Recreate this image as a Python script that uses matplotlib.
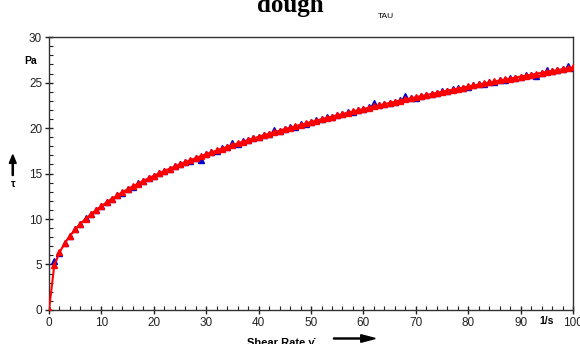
import matplotlib
matplotlib.use("Agg")
import matplotlib.pyplot as plt
from matplotlib.ticker import MultipleLocator

plt.rcParams['font.family'] = ['Liberation Sans', 'DejaVu Sans']

# shear rate [1/s]
shear_rate = list(range(0, 101))

# fitted curve (red), shear stress tau [Pa]
tau_fit = [0.0, 4.90, 6.32, 7.34, 8.16, 8.86, 9.47, 10.03, 10.53, 11.00,
           11.43, 11.84, 12.23, 12.59, 12.94, 13.27, 13.59, 13.90, 14.20, 14.48,
           14.76, 15.02, 15.28, 15.54, 15.78, 16.02, 16.25, 16.48, 16.70, 16.92,
           17.13, 17.34, 17.54, 17.74, 17.94, 18.13, 18.32, 18.51, 18.69, 18.87,
           19.04, 19.22, 19.39, 19.56, 19.72, 19.89, 20.05, 20.21, 20.37, 20.52,
           20.67, 20.83, 20.97, 21.12, 21.27, 21.41, 21.55, 21.70, 21.83, 21.97,
           22.11, 22.24, 22.38, 22.51, 22.64, 22.77, 22.90, 23.02, 23.15, 23.27,
           23.40, 23.52, 23.64, 23.76, 23.88, 24.00, 24.12, 24.23, 24.35, 24.46,
           24.58, 24.69, 24.80, 24.91, 25.02, 25.13, 25.24, 25.35, 25.45, 25.56,
           25.67, 25.77, 25.87, 25.98, 26.08, 26.18, 26.28, 26.38, 26.48, 26.58,
           26.68]

# measured points (blue)
tau_meas = [0.0, 5.40, 6.30, 7.40, 8.10, 8.90, 9.40, 10.10, 10.50, 10.95,
            11.40, 11.85, 12.20, 12.65, 12.90, 13.30, 13.55, 13.95, 14.15, 14.50,
            14.70, 15.05, 15.25, 15.50, 15.80, 16.00, 16.30, 16.40, 16.75, 16.50,
            17.15, 17.40, 17.50, 17.80, 17.90, 18.35, 18.30, 18.55, 18.65, 18.90,
            19.00, 19.25, 19.35, 19.80, 19.70, 19.90, 20.10, 20.15, 20.45, 20.50,
            20.65, 20.90, 20.95, 21.20, 21.25, 21.45, 21.50, 21.80, 21.80, 22.00,
            22.10, 22.30, 22.75, 22.50, 22.70, 22.80, 22.85, 23.05, 23.50, 23.30,
            23.35, 23.55, 23.60, 23.80, 23.90, 24.10, 24.05, 24.30, 24.40, 24.45,
            24.55, 24.75, 24.80, 24.85, 25.10, 25.10, 25.30, 25.30, 25.50, 25.50,
            25.65, 25.80, 25.85, 25.70, 26.10, 26.40, 26.25, 26.40, 26.55, 26.85,
            26.60]

fig = plt.figure(figsize=(5.8, 3.44), dpi=100)
ax = fig.add_axes([0.0845, 0.099, 0.9035, 0.793])

ax.plot(shear_rate, tau_meas, linestyle='none', marker='^', markersize=4.5,
        color='#0000c8', zorder=2)
ax.plot(shear_rate, tau_fit, color='#ff0000', linewidth=1.5, marker='^',
        markersize=4.5, zorder=3)

ax.set_xlim(0, 100)
ax.set_ylim(0, 30)
ax.xaxis.set_major_locator(MultipleLocator(10))
ax.xaxis.set_minor_locator(MultipleLocator(2))
ax.yaxis.set_major_locator(MultipleLocator(5))
ax.yaxis.set_minor_locator(MultipleLocator(1))
ax.tick_params(which='major', direction='inout', length=6, width=1,
               labelsize=8.5, pad=2, colors='#222222')
ax.tick_params(which='minor', direction='in', length=3, width=0.8, color='#222222')
ax.tick_params(top=False, right=False)
for s in ax.spines.values():
    s.set_color('#333333')
    s.set_linewidth(1.0)

# axis annotations
fig.text(0.052, 0.822, 'Pa', fontsize=7.5, fontweight='bold', ha='center', va='center')
fig.text(0.943, 0.068, '1/s', fontsize=7.5, fontweight='bold', ha='center', va='center')
fig.text(0.022, 0.465, '\u03c4', fontsize=7.5, fontweight='bold', ha='center', va='center')
fig.add_artist(matplotlib.patches.FancyArrow(0.022, 0.49, 0, 0.06, width=0.002,
               head_width=0.012, head_length=0.025, color='black',
               transform=fig.transFigure, length_includes_head=True))
fig.text(0.485, 0.003, 'Shear Rate \u03b3\u0307', fontsize=8, fontweight='bold',
         ha='center', va='center')
fig.add_artist(matplotlib.patches.FancyArrow(0.575, 0.016, 0.072, 0, width=0.003,
               head_width=0.022, head_length=0.025, color='black',
               transform=fig.transFigure, length_includes_head=True))

fig.text(0.5, 0.985, 'dough', fontsize=18, fontweight='bold',
         family=['Liberation Serif', 'DejaVu Serif'], ha='center', va='center')
fig.text(0.665, 0.953, 'TAU', fontsize=6, ha='center', va='center')

fig.savefig('out.png', dpi=100)
